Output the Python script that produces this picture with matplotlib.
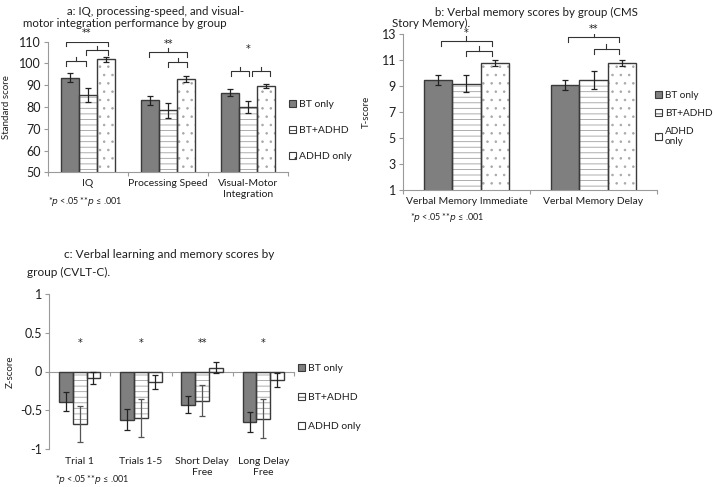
import matplotlib
matplotlib.use('Agg')
from matplotlib import pyplot as plt
from matplotlib.patches import Patch
import numpy as np

plt.rcParams['font.family'] = ['Lato', 'DejaVu Sans']
plt.rcParams['hatch.linewidth'] = 0.6

groups = ['BT only', 'BT+ADHD', 'ADHD only']

# panel a
a_cats = ['IQ', 'Processing Speed', 'Visual-Motor\nIntegration']
a_vals = [[93.5, 83.0, 86.5], [85.5, 78.5, 80.0], [102.0, 93.0, 89.5]]
a_err = [[1.9, 1.9, 1.6], [3.3, 3.5, 2.7], [1.2, 1.4, 1.0]]

# panel b
b_cats = ['Verbal Memory Immediate', 'Verbal Memory Delay']
b_vals = [[9.5, 9.1], [9.2, 9.5], [10.8, 10.8]]
b_err = [[0.38, 0.38], [0.68, 0.7], [0.25, 0.25]]

# panel c
c_cats = ['Trial 1', 'Trials 1-5', 'Short Delay\nFree', 'Long Delay\nFree']
c_vals = [[-0.39, -0.62, -0.43, -0.65], [-0.68, -0.60, -0.38, -0.61], [-0.08, -0.13, 0.05, -0.11]]
c_err = [[0.12, 0.14, 0.11, 0.13], [0.23, 0.25, 0.20, 0.25], [0.08, 0.09, 0.07, 0.09]]
c_stars = ['*', '*', '**', '*']

# significance braces: (category, x0 offset, x1 offset, y, label)
a_braces = [(0, -0.275, 0.25, 110, '**'), (0, -0.025, 0.25, 106.2, ''), (0, -0.275, -0.025, 101, ''),
            (1, -0.24, 0.24, 105.3, '**'), (1, 0.0, 0.24, 100.7, ''),
            (2, -0.21, 0.01, 96.5, ''), (2, 0.05, 0.275, 96.5, '')]
a_extra = [(2, 106.5, '*')]
b_braces = [(0, -0.2, 0.2, 12.48, '*'), (0, 0.0, 0.2, 11.7, ''),
            (1, -0.2, 0.2, 12.8, '**'), (1, 0.0, 0.2, 11.9, '')]

W, H = 713, 487
fig = plt.figure(figsize=(W / 100, H / 100), dpi=100)

def px(x, y):
    return x / W, 1 - y / H

fills = ['#7f7f7f', 'white', 'white']
edges = ['#3a3a3a', '#3a3a3a', '#3a3a3a']
hatches = [None, '---', '..']
hcols = [None, '#a0a0a0', '#a8a8a8']
txt = '#1e1e1e'
spc = '#9a9a9a'
bw = 0.225
star_font = dict(fontsize=7, color=txt, family='DejaVu Sans')

def draw_bars(ax, vals, errs, dots=True, ecols=None):
    n = len(vals[0])
    x = np.arange(n)
    for i in range(3):
        xi = x + (i - 1) * bw
        h = hatches[i] if (dots or i != 2) else None
        ax.bar(xi, vals[i], bw, color=fills[i], edgecolor=hcols[i] if h else fills[i],
               hatch=h, linewidth=0, zorder=2)
        ax.bar(xi, vals[i], bw, color='none', edgecolor=edges[i], linewidth=1.0, zorder=3)
        ec = '#222222' if ecols is None else ecols[i]
        ax.errorbar(xi, vals[i], yerr=errs[i], fmt='none', ecolor=ec, elinewidth=0.9,
                    capsize=2.5, capthick=0.9, zorder=4)
    return x

def style(ax, n):
    for s in ['top', 'right']:
        ax.spines[s].set_visible(False)
    ax.spines['left'].set_color(spc)
    ax.spines['bottom'].set_color(spc)
    ax.set_xlim(-0.5, n - 0.5)
    ax.set_xticks(np.arange(n + 1) - 0.5)
    ax.set_xticklabels([])
    ax.tick_params(axis='x', which='major', length=3, color=spc)
    ax.tick_params(axis='y', length=3, color=spc, labelsize=9, labelcolor=txt, pad=2)

def brace(ax, x0, x1, y, d, tip, lab, off):
    xm = (x0 + x1) / 2
    ax.plot([x0, x0, x1, x1], [y - d, y, y, y - d], color='#333333', lw=0.8, zorder=5)
    ax.plot([xm, xm], [y, y + tip], color='#333333', lw=0.8, zorder=5)
    if lab:
        ax.text(xm, y + off, lab, ha='center', va='center', **star_font)

def catlabel(ax, x, y, s, dy):
    ax.annotate(s, (x, y), xytext=(0, dy), textcoords='offset points', ha='center',
                va='top', fontsize=7.5, color=txt, linespacing=1.3, annotation_clip=False)

def foot(x, y):
    fig.text(*px(x, y), '*$p$ <.05 **$p$ \u2264 .001', fontsize=6.5, color=txt,
             ha='left', va='center')

def legend(ax, x, y, spacing, labels, dots=True, fs=7.5):
    hs = []
    for i in range(3):
        h = hatches[i] if (dots or i != 2) else None
        hs.append(Patch(facecolor=fills[i], edgecolor=edges[i], hatch=h, linewidth=0.8))
    fig.legend(hs, labels, loc='upper left', bbox_to_anchor=px(x, y), frameon=False,
               fontsize=fs, handlelength=0.7, handleheight=0.7, handletextpad=0.3,
               labelspacing=spacing, borderaxespad=0, borderpad=0, labelcolor=txt)

# ---- panel a
axa = fig.add_axes([48 / W, 1 - 172.3 / H, 240 / W, 130.6 / H])
xa = draw_bars(axa, a_vals, a_err)
style(axa, 3)
axa.set_ylim(50, 110)
axa.set_yticks(range(50, 111, 10))
axa.set_ylabel('Standard score', fontsize=7, color=txt, labelpad=6)
for i, c in enumerate(a_cats):
    catlabel(axa, xa[i], 50, c, -4.5)
for cat, x0, x1, y, lab in a_braces:
    brace(axa, cat + x0, cat + x1, y, 2.2, 2.0, lab, 3.8)
for cat, y, lab in a_extra:
    axa.text(cat, y, lab, ha='center', va='center', **star_font)
fig.text(*px(156, 11.5), 'a: IQ, processing-speed, and visual-', ha='center', va='center',
         fontsize=8.3, color=txt)
fig.text(*px(23, 23.5), 'motor integration performance by group', ha='left', va='center',
         fontsize=8.3, color=txt)
foot(48, 202)
legend(axa, 289, 100, 1.6, groups)

# ---- panel b
axb = fig.add_axes([403 / W, 1 - 190 / H, 254 / W, 155.7 / H])
xb = draw_bars(axb, b_vals, b_err)
style(axb, 2)
axb.set_ylim(1, 13)
axb.set_yticks(range(1, 14, 2))
axb.set_ylabel('T-score', fontsize=7, color=txt, labelpad=8)
for i, c in enumerate(b_cats):
    catlabel(axb, xb[i], 1, c, -5)
for cat, x0, x1, y, lab in b_braces:
    brace(axb, cat + x0, cat + x1, y, 0.38, 0.38, lab, 0.62)
fig.text(*px(536, 12.5), 'b: Verbal memory scores by group (CMS', ha='center', va='center',
         fontsize=8.3, color=txt)
fig.text(*px(392, 23.5), 'Story Memory).', ha='left', va='center', fontsize=8.3, color=txt)
foot(410, 217)
legend(axb, 655, 91, 0.9, ['BT only', 'BT+ADHD', 'ADHD\nonly'], fs=7.2)

# ---- panel c
axc = fig.add_axes([49 / W, 1 - 449 / H, 245 / W, 155 / H])
xc = draw_bars(axc, c_vals, c_err, dots=False, ecols=['#222222', '#555555', '#222222'])
style(axc, 4)
axc.spines['bottom'].set_position(('data', 0))
axc.set_ylim(-1, 1)
axc.set_yticks([-1, -0.5, 0, 0.5, 1])
axc.set_yticklabels(['-1', '-0.5', '0', '0.5', '1'])
axc.set_ylabel('Z-score', fontsize=7, color=txt, labelpad=4)
for i, c in enumerate(c_cats):
    catlabel(axc, xc[i], -1, c, -6)
    axc.text(xc[i], 0.37, c_stars[i], ha='center', va='center', **star_font)
fig.text(*px(169, 255), 'c: Verbal learning and memory scores by', ha='center', va='center',
         fontsize=8.5, color=txt)
fig.text(*px(27, 272), 'group (CVLT-C).', ha='left', va='center', fontsize=8.5, color=txt)
foot(55, 480)
legend(axc, 298, 364, 1.9, groups, dots=False)

fig.savefig('out.png', dpi=100)
